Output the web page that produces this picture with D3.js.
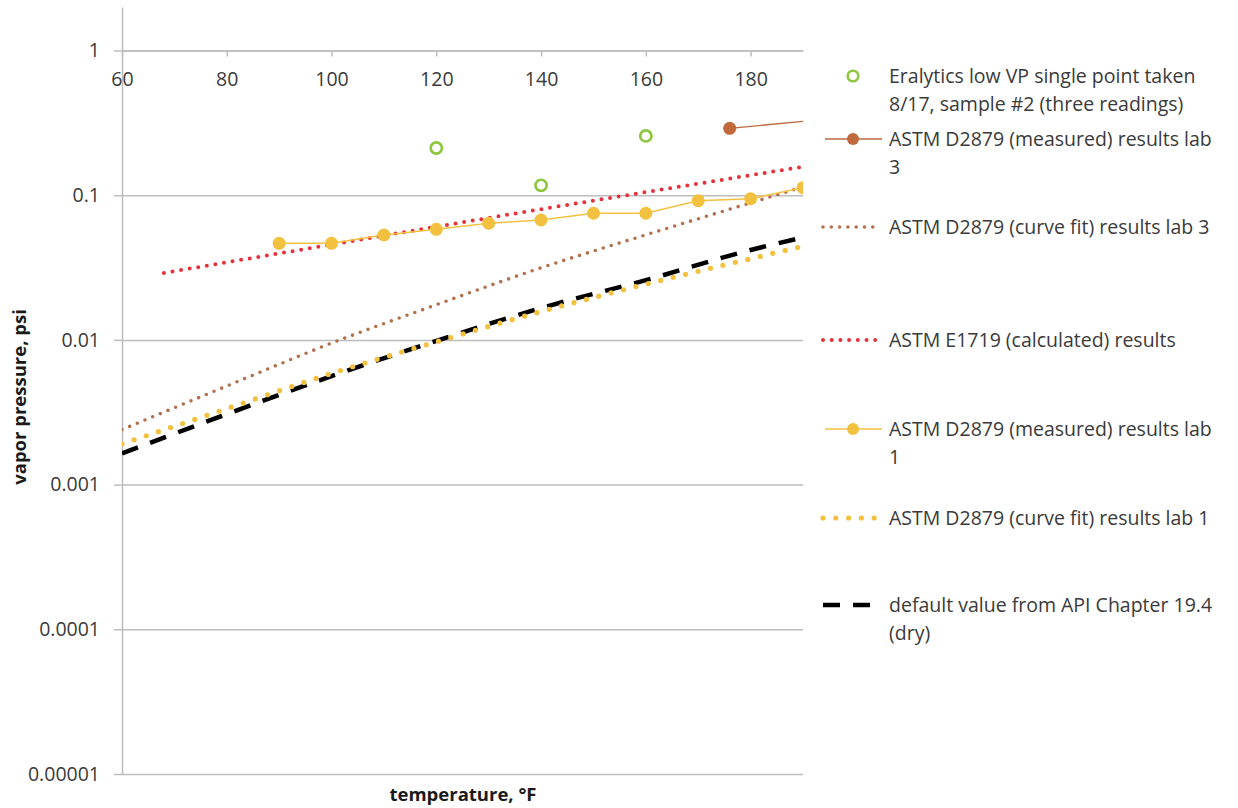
<!DOCTYPE html>
<html>
<head>
<meta charset="utf-8">
<script src="https://cdn.jsdelivr.net/npm/d3@7"></script>
<style>
  body { margin: 0; background: #fff; }
  text { font-family: "Open Sans", "Liberation Sans", sans-serif; fill: #3a3a3a; }
</style>
</head>
<body>
<svg id="chart" width="1238" height="808"></svg>
<script>
// ---- data: temperature (°F) vs vapor pressure (psi) ----
const xTickValues = [60, 80, 100, 120, 140, 160, 180];
const yTickValues = [1e-5, 1e-4, 1e-3, 1e-2, 1e-1, 1];
const yTickLabels = ["0.00001", "0.0001", "0.001", "0.01", "0.1", "1"];

// Eralytics low VP single point (three readings)
const eralyticsTemp = [120, 140, 160];
const eralyticsVP   = [0.212, 0.117, 0.257];

// ASTM D2879 measured, lab 3
const lab3MeasTemp = [176, 200];
const lab3MeasVP   = [0.29, 0.35];

// ASTM D2879 curve fit, lab 3
const lab3FitTemp = [60, 80, 100, 120, 140, 160, 180, 190];
const lab3FitVP   = [0.0024, 0.0048, 0.0095, 0.0175, 0.0315, 0.0532, 0.0885, 0.114];

// ASTM E1719 calculated
const e1719Temp = [68, 80, 100, 120, 140, 160, 180, 190];
const e1719VP   = [0.029, 0.0344, 0.0456, 0.0606, 0.080, 0.105, 0.1374, 0.157];

// ASTM D2879 measured, lab 1
const lab1MeasTemp = [90, 100, 110, 120, 130, 140, 150, 160, 170, 180, 190];
const lab1MeasVP   = [0.0465, 0.0465, 0.0531, 0.0581, 0.0640, 0.0674, 0.0750, 0.0750, 0.0916, 0.0946, 0.1127];

// ASTM D2879 curve fit, lab 1
const lab1FitTemp = [60, 80, 100, 120, 140, 160, 180, 190];
const lab1FitVP   = [0.00191, 0.00335, 0.00587, 0.0097, 0.0157, 0.0243, 0.0364, 0.0444];

// API Chapter 19.4 default (dry)
const apiTemp = [60, 80, 100, 120, 140, 160, 180, 190];
const apiVP   = [0.00164, 0.00307, 0.00562, 0.00984, 0.0166, 0.0259, 0.0418, 0.0510];

const zip = (xs, ys) => xs.map((t, i) => ({ t, v: ys[i] }));

// ---- layout ----
const svg = d3.select("#chart");
const plotLeft = 122, plotRight = 803, plotBottom = 774;
const decade = 144.7;

const x = d3.scaleLinear().domain([60, 190]).range([plotLeft, plotRight]);
const y = d3.scaleLog().domain([1e-5, 2])
  .range([plotBottom, plotBottom - decade * Math.log10(2e5)]);

const gridColor = "#bdbdbd";
const textColor = "#3a3a3a";

// horizontal gridlines
const grid = svg.append("g").attr("transform", `translate(${plotLeft},0)`)
  .call(d3.axisLeft(y).tickValues(yTickValues).tickSize(-(plotRight - plotLeft)).tickSizeOuter(0).tickFormat(""));
grid.select(".domain").remove();
grid.selectAll("line").attr("stroke", gridColor).attr("stroke-width", 1.5);

// vertical axis with outward ticks and labels
const yAxis = svg.append("g").attr("transform", `translate(${plotLeft},0)`)
  .call(d3.axisLeft(y).tickValues(yTickValues).tickSize(8).tickSizeOuter(0).tickPadding(14)
    .tickFormat((d, i) => yTickLabels[i]));
yAxis.select(".domain").attr("stroke", gridColor).attr("stroke-width", 1.5);
yAxis.selectAll("line").attr("stroke", gridColor).attr("stroke-width", 1.5);
yAxis.selectAll("text").style("font-size", "19.5px").style("fill", textColor);

// horizontal axis crossing at vapor pressure = 1
const xAxis = svg.append("g").attr("transform", `translate(0,${y(1)})`)
  .call(d3.axisBottom(x).tickValues(xTickValues).tickSize(6).tickSizeOuter(0).tickPadding(16));
xAxis.select(".domain").attr("stroke", gridColor).attr("stroke-width", 1.5);
xAxis.selectAll("line").attr("stroke", gridColor).attr("stroke-width", 1.5);
xAxis.selectAll("text").style("font-size", "19.5px").style("fill", textColor);

// axis titles
svg.append("text")
  .attr("transform", "translate(26,397) rotate(-90)")
  .attr("text-anchor", "middle")
  .style("font-size", "18.5px").style("font-weight", "bold").style("fill", "#1a1a1a")
  .text("vapor pressure, psi");
svg.append("text")
  .attr("x", 463).attr("y", 801)
  .attr("text-anchor", "middle")
  .style("font-size", "18.5px").style("font-weight", "bold").style("fill", "#1a1a1a")
  .text("temperature, °F");

// ---- series ----
svg.append("defs").append("clipPath").attr("id", "plot-clip")
  .append("rect").attr("x", plotLeft).attr("y", 0).attr("width", plotRight - plotLeft).attr("height", plotBottom);
const plot = svg.append("g").attr("clip-path", "url(#plot-clip)");

const line = d3.line().x(d => x(d.t)).y(d => y(d.v));
const smooth = d3.line().x(d => x(d.t)).y(d => y(d.v)).curve(d3.curveMonotoneX);

const colors = {
  green: "#8dc63f",
  brown: "#c0693c",
  brownDot: "#b3704f",
  red: "#e8303a",
  gold: "#f2c140",
  black: "#000000"
};

const styles = {
  lab3Fit: { stroke: colors.brownDot, width: 3.6, dash: "0 8.3", cap: "round" },
  e1719:   { stroke: colors.red,      width: 4,   dash: "0 8.7", cap: "round" },
  lab1Fit: { stroke: colors.gold,     width: 5.2, dash: "0 12.8", cap: "round" },
  api:     { stroke: colors.black,    width: 4.5, dash: "17 13",  cap: "butt" }
};

function styled(sel, s) {
  return sel.attr("fill", "none").attr("stroke", s.stroke).attr("stroke-width", s.width)
    .attr("stroke-dasharray", s.dash).attr("stroke-linecap", s.cap);
}

styled(plot.append("path").datum(zip(lab3FitTemp, lab3FitVP)).attr("d", smooth), styles.lab3Fit);
styled(plot.append("path").datum(zip(e1719Temp, e1719VP)).attr("d", smooth), styles.e1719);
styled(plot.append("path").datum(zip(apiTemp, apiVP)).attr("d", smooth), styles.api);
styled(plot.append("path").datum(zip(lab1FitTemp, lab1FitVP)).attr("d", smooth), styles.lab1Fit);

// lab 1 measured
plot.append("path").datum(zip(lab1MeasTemp, lab1MeasVP)).attr("d", line)
  .attr("fill", "none").attr("stroke", colors.gold).attr("stroke-width", 1.5);
plot.selectAll(".lab1pt").data(zip(lab1MeasTemp, lab1MeasVP)).join("circle")
  .attr("class", "lab1pt").attr("cx", d => x(d.t)).attr("cy", d => y(d.v)).attr("r", 6.5)
  .attr("fill", colors.gold);

// lab 3 measured
plot.append("path").datum(zip(lab3MeasTemp, lab3MeasVP)).attr("d", line)
  .attr("fill", "none").attr("stroke", colors.brown).attr("stroke-width", 1.3);
plot.selectAll(".lab3pt").data(zip(lab3MeasTemp, lab3MeasVP)).join("circle")
  .attr("class", "lab3pt").attr("cx", d => x(d.t)).attr("cy", d => y(d.v)).attr("r", 6.5)
  .attr("fill", colors.brown);

// Eralytics points
plot.selectAll(".eraPt").data(zip(eralyticsTemp, eralyticsVP)).join("circle")
  .attr("class", "eraPt").attr("cx", d => x(d.t)).attr("cy", d => y(d.v)).attr("r", 5.6)
  .attr("fill", "#fff").attr("stroke", colors.green).attr("stroke-width", 2.7);

// ---- legend ----
const legendItems = [
  { y: 76,  kind: "open",   lines: ["Eralytics low VP single point taken", "8/17, sample #2 (three readings)"] },
  { y: 139, kind: "marker", color: colors.brown, lines: ["ASTM D2879 (measured) results lab", "3"] },
  { y: 227, kind: "style",  style: styles.lab3Fit, lines: ["ASTM D2879 (curve fit) results lab 3"] },
  { y: 340, kind: "style",  style: styles.e1719, lines: ["ASTM E1719 (calculated) results"] },
  { y: 429, kind: "marker", color: colors.gold, lines: ["ASTM D2879 (measured) results lab", "1"] },
  { y: 518, kind: "style",  style: styles.lab1Fit, lines: ["ASTM D2879 (curve fit) results lab 1"] },
  { y: 605, kind: "style",  style: styles.api, lines: ["default value from API Chapter 19.4", "(dry)"] }
];

const legend = svg.append("g");
legendItems.forEach(item => {
  const g = legend.append("g").attr("transform", `translate(0,${item.y})`);
  if (item.kind === "open") {
    g.append("circle").attr("cx", 853).attr("cy", 0).attr("r", 5.3)
      .attr("fill", "#fff").attr("stroke", colors.green).attr("stroke-width", 2.6);
  } else if (item.kind === "marker") {
    g.append("line").attr("x1", 825).attr("x2", 882).attr("y1", 0).attr("y2", 0)
      .attr("stroke", item.color).attr("stroke-width", 1.4);
    g.append("circle").attr("cx", 853).attr("cy", 0).attr("r", 6).attr("fill", item.color);
  } else {
    const p = g.append("path").attr("d", "M823,0H" + (item.style === styles.api ? 870 : 880));
    styled(p, item.style);
  }
  item.lines.forEach((t, i) => {
    g.append("text").attr("x", 889).attr("y", i * 28).attr("dy", "0.35em")
      .style("font-size", "19.5px").style("fill", textColor).text(t);
  });
});
</script>
</body>
</html>
